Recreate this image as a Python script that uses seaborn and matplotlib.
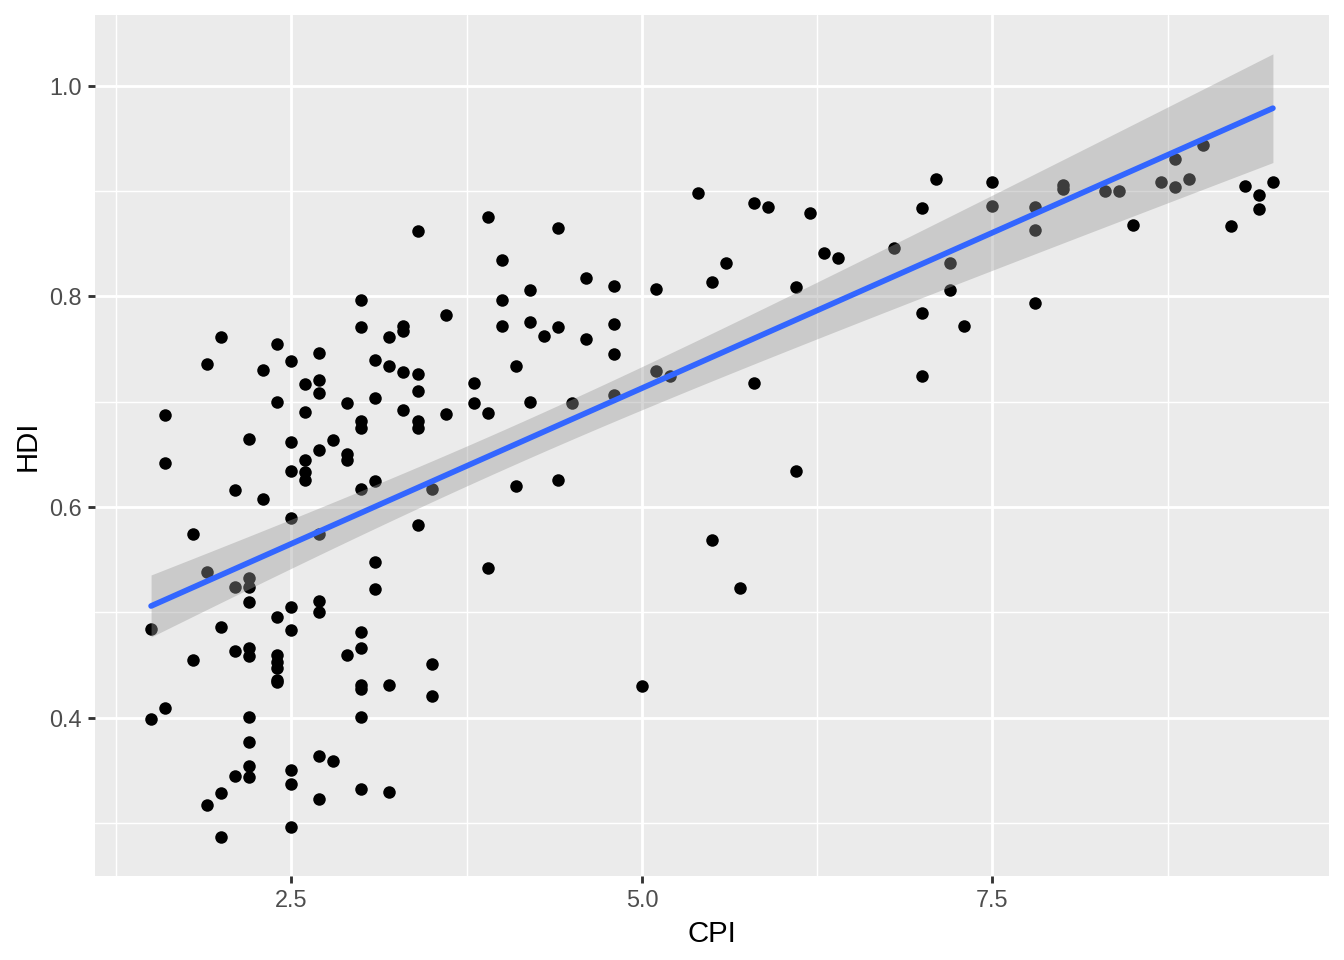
import numpy as np
import pandas as pd
import seaborn as sns
import matplotlib
matplotlib.use("Agg")
import matplotlib.pyplot as plt
from matplotlib.ticker import MultipleLocator, FormatStrFormatter

# ---- data ----
cpi = [1.5, 1.5,
       1.6, 1.6, 1.6,
       1.8, 1.8,
       1.9, 1.9, 1.9,
       2.0, 2.0, 2.0, 2.0,
       2.1, 2.1, 2.1, 2.1,
       2.2, 2.2, 2.2, 2.2, 2.2, 2.2, 2.2, 2.2, 2.2, 2.2,
       2.3, 2.3,
       2.4, 2.4, 2.4, 2.4, 2.4, 2.4, 2.4, 2.4,
       2.5, 2.5, 2.5, 2.5, 2.5, 2.5, 2.5, 2.5, 2.5,
       2.6, 2.6, 2.6, 2.6, 2.6,
       2.7, 2.7, 2.7, 2.7, 2.7, 2.7, 2.7, 2.7, 2.7,
       2.8, 2.8,
       2.9, 2.9, 2.9, 2.9,
       3.0, 3.0, 3.0, 3.0, 3.0, 3.0, 3.0, 3.0, 3.0, 3.0, 3.0,
       3.1, 3.1, 3.1, 3.1, 3.1,
       3.2, 3.2, 3.2, 3.2,
       3.3, 3.3, 3.3, 3.3,
       3.4, 3.4, 3.4, 3.4, 3.4, 3.4,
       3.5, 3.5, 3.5,
       3.6, 3.6,
       3.8, 3.8,
       3.9, 3.9, 3.9,
       4.0, 4.0, 4.0,
       4.1, 4.1,
       4.2, 4.2, 4.2,
       4.3,
       4.4, 4.4, 4.4,
       4.5,
       4.6, 4.6,
       4.8, 4.8, 4.8, 4.8,
       5.0,
       5.1, 5.1,
       5.2,
       5.4,
       5.5, 5.5,
       5.6,
       5.7,
       5.8, 5.8,
       5.9,
       6.1, 6.1,
       6.2,
       6.3,
       6.4,
       6.8,
       7.0, 7.0, 7.0,
       7.1,
       7.2, 7.2,
       7.3,
       7.5, 7.5,
       7.8, 7.8, 7.8,
       8.0, 8.0,
       8.3,
       8.4,
       8.5,
       8.7,
       8.8, 8.8,
       8.9,
       9.0,
       9.2,
       9.3,
       9.4, 9.4,
       9.5]

hdi = [0.484, 0.399,
       0.687, 0.642, 0.409,
       0.574, 0.455,
       0.736, 0.538, 0.317,
       0.761, 0.486, 0.329, 0.287,
       0.616, 0.524, 0.463, 0.345,
       0.665, 0.533, 0.524, 0.510, 0.466, 0.459, 0.401, 0.377, 0.354, 0.344,
       0.730, 0.608,
       0.755, 0.700, 0.496, 0.460, 0.453, 0.447, 0.436, 0.434,
       0.739, 0.662, 0.634, 0.590, 0.505, 0.483, 0.350, 0.337, 0.296,
       0.717, 0.690, 0.645, 0.633, 0.626,
       0.746, 0.721, 0.708, 0.654, 0.574, 0.511, 0.500, 0.364, 0.323,
       0.664, 0.359,
       0.699, 0.650, 0.645, 0.460,
       0.797, 0.771, 0.682, 0.675, 0.617, 0.481, 0.466, 0.431, 0.427, 0.401, 0.332,
       0.740, 0.704, 0.625, 0.548, 0.522,
       0.761, 0.734, 0.431, 0.330,
       0.772, 0.767, 0.728, 0.692,
       0.862, 0.726, 0.710, 0.682, 0.675, 0.583,
       0.617, 0.451, 0.421,
       0.782, 0.688,
       0.718, 0.699,
       0.875, 0.689, 0.542,
       0.835, 0.797, 0.772,
       0.734, 0.620,
       0.806, 0.776, 0.700,
       0.762,
       0.865, 0.771, 0.626,
       0.699,
       0.817, 0.760,
       0.810, 0.774, 0.745, 0.706,
       0.430,
       0.807, 0.729,
       0.724,
       0.898,
       0.814, 0.569,
       0.832,
       0.523,
       0.889, 0.718,
       0.885,
       0.809, 0.634,
       0.879,
       0.841,
       0.836,
       0.846,
       0.884, 0.784, 0.724,
       0.911,
       0.832, 0.806,
       0.772,
       0.909, 0.886,
       0.885, 0.863, 0.794,
       0.906, 0.902,
       0.900,
       0.900,
       0.868,
       0.909,
       0.930, 0.904,
       0.911,
       0.944,
       0.867,
       0.905,
       0.896, 0.883,
       0.909]

x_ticks = [2.5, 5.0, 7.5]
y_ticks = [0.4, 0.6, 0.8, 1.0]

df = pd.DataFrame({"CPI": cpi, "HDI": hdi})

# ---- linear fit with 95% confidence band (like geom_smooth(method="lm")) ----
x = df["CPI"].to_numpy()
y = df["HDI"].to_numpy()
n = len(x)
slope, intercept = np.polyfit(x, y, 1)
resid = y - (slope * x + intercept)
s_err = np.sqrt(np.sum(resid ** 2) / (n - 2))
xbar = x.mean()
sxx = np.sum((x - xbar) ** 2)
xg = np.linspace(x.min(), x.max(), 80)
yg = slope * xg + intercept
tval = 1.974
se = s_err * np.sqrt(1.0 / n + (xg - xbar) ** 2 / sxx)
lo = yg - tval * se
hi = yg + tval * se
fit = pd.DataFrame({"CPI": xg, "HDI": yg})

# ---- style ----
sns.set_theme(style="darkgrid")
plt.rcParams["font.family"] = ["Liberation Sans", "DejaVu Sans"]

fig = plt.figure(figsize=(7, 5), dpi=192)
fig.patch.set_facecolor("white")
ax = fig.add_axes([95 / 1344, (960 - 876) / 960, (1329 - 95) / 1344, (876 - 14.7) / 960])
ax.set_facecolor("#EBEBEB")

sns.scatterplot(data=df, x="CPI", y="HDI", color="black", s=22,
                linewidth=0, ax=ax, zorder=2)
ax.fill_between(xg, lo, hi, color="#999999", alpha=0.4, linewidth=0, zorder=3)
sns.lineplot(data=fit, x="CPI", y="HDI", color="#3366FF", linewidth=2.13,
             ax=ax, zorder=4)

# limits with 5% expansion
xmin, xmax = x.min(), x.max()
ymin = min(y.min(), lo.min())
ymax = max(y.max(), hi.max())
dx = (xmax - xmin) * 0.05
dy = (ymax - ymin) * 0.05
ax.set_xlim(xmin - dx, xmax + dx)
ax.set_ylim(ymin - dy, ymax + dy)

ax.set_xticks(x_ticks)
ax.set_yticks(y_ticks)
ax.xaxis.set_minor_locator(MultipleLocator(1.25))
ax.yaxis.set_minor_locator(MultipleLocator(0.1))
ax.xaxis.set_major_formatter(FormatStrFormatter("%.1f"))
ax.yaxis.set_major_formatter(FormatStrFormatter("%.1f"))

ax.grid(which="major", color="white", linewidth=1.07)
ax.grid(which="minor", color="white", linewidth=0.53)
ax.set_axisbelow(True)
for sp in ax.spines.values():
    sp.set_visible(False)

ax.tick_params(which="major", direction="out", length=2.75, width=1.07,
               color="#333333", labelcolor="#4D4D4D", labelsize=8.8, pad=2.2,
               bottom=True, left=True)
ax.tick_params(which="minor", length=0)

ax.set_xlabel("CPI", fontsize=11, color="black", labelpad=2.75)
ax.set_ylabel("HDI", fontsize=11, color="black", labelpad=2.75)

fig.savefig("out.png", dpi=192)
